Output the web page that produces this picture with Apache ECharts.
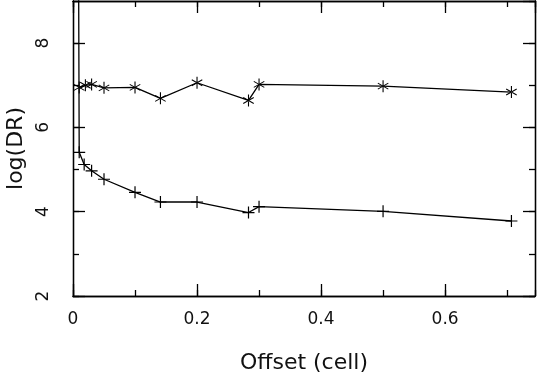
<!DOCTYPE html>
<html>
<head>
<meta charset="utf-8">
<script src="https://cdn.jsdelivr.net/npm/echarts@6/dist/echarts.min.js"></script>
<style>
  html, body { margin: 0; padding: 0; background: #fff; }
  #chart { width: 539px; height: 380px; }
</style>
</head>
<body>
<div id="chart"></div>
<script>
// offsets (cell) and log(DR) values
const offsetsStar = [0.01, 0.02, 0.03, 0.05, 0.1, 0.141, 0.2, 0.283, 0.3, 0.5, 0.707];
const logDRStar = [6.95, 7.0, 7.02, 6.94, 6.95, 6.69, 7.06, 6.64, 7.02, 6.98, 6.84];

// first point lies far above the frame (only the steep line is visible)
const offsetsPlus = [0.0085, 0.01, 0.018, 0.03, 0.05, 0.1, 0.141, 0.2, 0.283, 0.3, 0.5, 0.707];
const logDRPlus = [12, 5.41, 5.12, 4.97, 4.77, 4.46, 4.23, 4.23, 3.98, 4.12, 4.01, 3.78];

const xTicks = [0, 0.2, 0.4, 0.6];
const yTicks = [2, 4, 6, 8];

const X_MIN = 0, X_MAX = 0.745;
const Y_MIN = 2, Y_MAX = 9;

const FONT = 'DejaVu Sans';

// marker shapes
const plusPath = 'path://M4.5,0h1v10h-1zM0,4.5h10v1h-10z';
const starPath = 'path://M4.55,0h0.9v10h-0.9z' +
  'M0.87,7.85L9.53,2.85L9.13,2.15L0.47,7.15z' +
  'M0.47,2.85L9.13,7.85L9.53,7.15L0.87,2.15z';

const chart = echarts.init(document.getElementById('chart'));

function frameAxis(dir, position, interval, tickLen, withLabels) {
  const isX = dir === 'x';
  const ax = {
    type: 'value',
    position: position,
    min: isX ? X_MIN : Y_MIN,
    max: isX ? X_MAX : Y_MAX,
    interval: interval,
    axisLine: { show: true, onZero: false, lineStyle: { color: '#000', width: 1.3 } },
    axisTick: { show: true, inside: true, length: tickLen, lineStyle: { color: '#000', width: 1.3 } },
    splitLine: { show: false },
    axisLabel: { show: false }
  };
  if (withLabels) {
    const ticks = isX ? xTicks : yTicks;
    ax.axisLabel = {
      show: true,
      showMaxLabel: false,
      color: '#111',
      fontFamily: FONT,
      fontSize: 17,
      margin: isX ? 15 : 21,
      rotate: isX ? 0 : 90,
      formatter: v => (ticks.some(t => Math.abs(t - v) < 1e-9) ? String(v) : '')
    };
  }
  return ax;
}

const xMain = frameAxis('x', 'bottom', 0.2, 12, true);
xMain.name = 'Offset (cell)';
xMain.nameLocation = 'middle';
xMain.nameGap = 56;
xMain.nameTextStyle = { color: '#111', fontFamily: FONT, fontSize: 22 };

const yMain = frameAxis('y', 'left', 2, 12, true);
yMain.name = 'log(DR)';
yMain.nameLocation = 'middle';
yMain.nameGap = 42;
yMain.nameTextStyle = { color: '#111', fontFamily: FONT, fontSize: 22 };

const option = {
  animation: false,
  backgroundColor: '#fff',
  grid: { left: 73, right: 4, top: 1, bottom: 84, containLabel: false, outerBoundsMode: 'none' },
  xAxis: [
    xMain,
    frameAxis('x', 'bottom', 0.1, 6, false),
    frameAxis('x', 'top', 0.2, 12, false),
    frameAxis('x', 'top', 0.1, 6, false)
  ],
  yAxis: [
    yMain,
    frameAxis('y', 'left', 1, 6, false),
    frameAxis('y', 'right', 2, 12, false),
    frameAxis('y', 'right', 1, 6, false)
  ],
  series: [
    {
      type: 'line',
      xAxisIndex: 0,
      yAxisIndex: 0,
      data: offsetsStar.map((x, i) => [x, logDRStar[i]]),
      symbol: starPath,
      symbolSize: [11, 12],
      showAllSymbol: true,
      clip: true,
      lineStyle: { color: '#000', width: 1.3 },
      itemStyle: { color: '#000' }
    },
    {
      type: 'line',
      xAxisIndex: 0,
      yAxisIndex: 0,
      data: offsetsPlus.map((x, i) => [x, logDRPlus[i]]),
      symbol: plusPath,
      symbolSize: 12,
      showAllSymbol: true,
      clip: true,
      lineStyle: { color: '#000', width: 1.3 },
      itemStyle: { color: '#000' }
    }
  ]
};

chart.setOption(option);
</script>
</body>
</html>
